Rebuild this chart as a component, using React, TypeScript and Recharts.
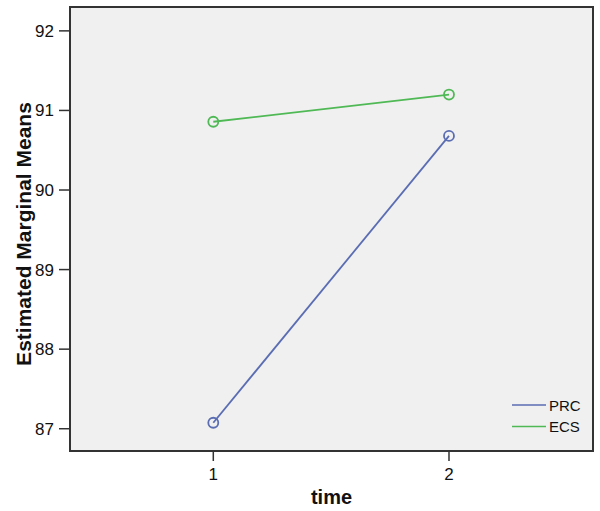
import React from 'react';
import { LineChart, Line, XAxis, YAxis, ReferenceArea } from 'recharts';

const times = [1, 2];
const prcValues = [87.075, 90.68];
const ecsValues = [90.858, 91.2];
const yTicks = [87, 88, 89, 90, 91, 92];
const xTicks = [1, 2];
const seriesNames = ['PRC', 'ECS'];
const seriesColors = ['#5a6db3', '#4fb955'];

const xDomain: [number, number] = [0.392, 2.611];
const yDomain: [number, number] = [86.72, 92.3];

const data = times.map((t, i) => ({ time: t, PRC: prcValues[i], ECS: ecsValues[i] }));

const FONT = '"Liberation Sans", Arial, Helvetica, sans-serif';

const LegendBox = () => (
  <svg width={90} height={44} style={{ display: 'block' }}>
    {seriesNames.map((n, i) => (
      <g key={n}>
        <line x1={2} x2={36} y1={10 + i * 21.5} y2={10 + i * 21.5} stroke={seriesColors[i]} strokeWidth={1.6} />
        <text x={39} y={15.5 + i * 21.5} fontSize={15} fontFamily={FONT} fill="#111">{n}</text>
      </g>
    ))}
  </svg>
);

export default function App() {
  return (
    <div style={{ position: 'absolute', left: 0, top: 0, width: 600, height: 511, background: '#fff' }}>
      <LineChart width={600} height={511} data={data} margin={{ top: 7, right: 7, bottom: 0, left: 0 }}>
        <ReferenceArea
          x1={xDomain[0]}
          x2={xDomain[1]}
          y1={yDomain[0]}
          y2={yDomain[1]}
          fill="#f0f0f0"
          fillOpacity={1}
          stroke="#333"
          strokeWidth={2}
          ifOverflow="visible"
        />
        <XAxis
          dataKey="time"
          type="number"
          domain={xDomain}
          ticks={xTicks}
          height={60}
          tickSize={10}
          tickMargin={7}
          axisLine={false}
          tickLine={{ stroke: '#333', strokeWidth: 1.5 }}
          tick={{ fontSize: 17, fill: '#111', fontFamily: FONT }}
          allowDataOverflow
          label={{
            content: (p: any) => {
              const vb = p.viewBox || { x: 70, width: 523 };
              return (
                <text x={vb.x + vb.width / 2} y={504} textAnchor="middle" fontSize={20} fontWeight="bold" fontFamily={FONT} fill="#111">
                  time
                </text>
              );
            },
          }}
        />
        <YAxis
          type="number"
          domain={yDomain}
          ticks={yTicks}
          width={70}
          tickSize={11}
          tickMargin={5}
          axisLine={false}
          tickLine={{ stroke: '#333', strokeWidth: 1.5 }}
          tick={{ fontSize: 17, fill: '#111', fontFamily: FONT }}
          allowDataOverflow
          label={{
            content: () => (
              <text x={31} y={234} transform="rotate(-90, 31, 234)" textAnchor="middle" fontSize={21} fontWeight="bold" fontFamily={FONT} fill="#111">
                Estimated Marginal Means
              </text>
            ),
          }}
        />
        <Line
          type="linear"
          dataKey="PRC"
          stroke={seriesColors[0]}
          strokeWidth={1.8}
          dot={{ r: 5, fill: 'none', stroke: seriesColors[0], strokeWidth: 1.8 }}
          isAnimationActive={false}
        />
        <Line
          type="linear"
          dataKey="ECS"
          stroke={seriesColors[1]}
          strokeWidth={1.8}
          dot={{ r: 5, fill: 'none', stroke: seriesColors[1], strokeWidth: 1.8 }}
          isAnimationActive={false}
        />
      </LineChart>
      <div style={{ position: 'absolute', left: 510, top: 395 }}>
        <LegendBox />
      </div>
    </div>
  );
}
